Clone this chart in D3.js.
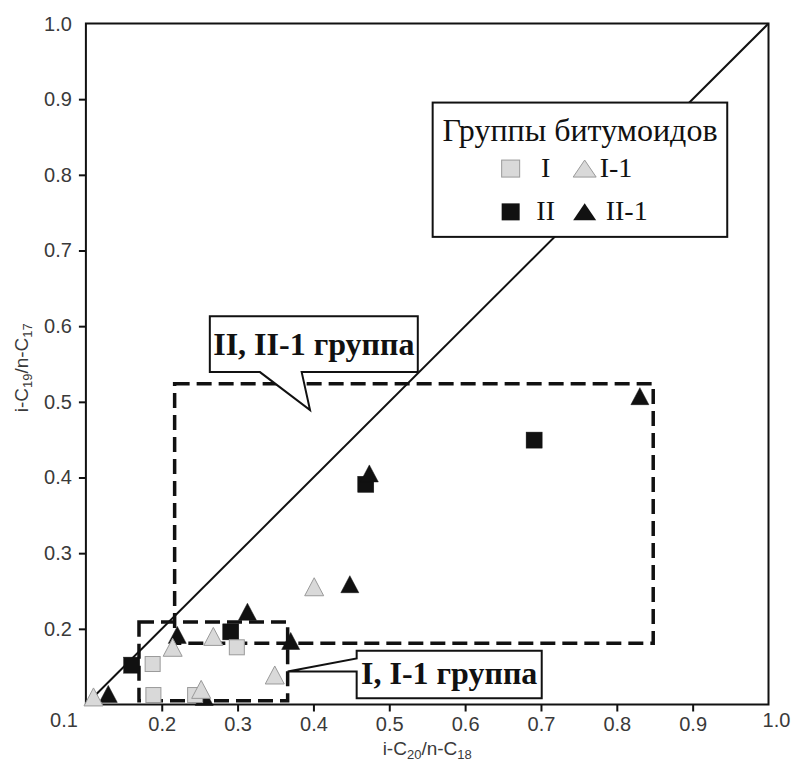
<!DOCTYPE html>
<html><head><meta charset="utf-8">
<script src="https://cdn.jsdelivr.net/npm/d3@7"></script>
<style>body{margin:0;background:#fff}svg{display:block}</style>
</head><body>
<svg id="c" width="794" height="763"></svg>
<script>
// ---- data ----
const groupI_x   = [0.188, 0.189, 0.244, 0.299];
const groupI_y   = [0.1535, 0.1125, 0.1125, 0.1756];
const groupI1_x  = [0.110, 0.2144, 0.252, 0.268, 0.349, 0.401];
const groupI1_y  = [0.110, 0.1756, 0.120, 0.190, 0.139, 0.2556];
const groupII_x  = [0.1604, 0.291, 0.469, 0.691];
const groupII_y  = [0.152, 0.196, 0.391, 0.4494];
const groupII1_x = [0.1295, 0.2205, 0.256, 0.313, 0.370, 0.448, 0.4737, 0.8304];
const groupII1_y = [0.114, 0.192, 0.110, 0.2226, 0.184, 0.259, 0.4054, 0.5075];
const tickValues = [0.2, 0.3, 0.4, 0.5, 0.6, 0.7, 0.8, 0.9];
const cornerTicks = [0.1, 1.0];
const diag_x = [0.11, 1.0];
const diag_y = [0.11, 1.0];
const regionII_bounds = [0.217, 0.848, 0.181, 0.524];   // x0,x1,y0,y1
const regionI_bounds  = [0.170, 0.366, 0.105, 0.209];
const calloutII_box = [0.2634, 0.5376, 0.5393, 0.6132]; // x0,x1,y0,y1
const calloutII_ptr = [0.3295, 0.3845, 0.3955, 0.489];  // base x0,x1, tip x,y
const calloutI_box  = [0.457, 0.701, 0.1082, 0.1711];
const calloutI_ptr  = [0.1608, 0.1436, 0.366];          // notch top y, notch bottom y, tip x
const legend_box    = [0.5572, 0.9456, 0.718, 0.8955];
const legendTitle = "Группы битумоидов";
const legendLabels = ["I", "I-1", "II", "II-1"];
const calloutTexts = ["II, II-1 группа", "I, I-1 группа"];

// ---- scales ----
const x = d3.scaleLinear().domain([0.1, 1.0]).range([85.9, 768.5]);
const y = d3.scaleLinear().domain([0.1, 1.0]).range([704.5, 23.5]);
const svg = d3.select("#c");
const fmt = d3.format(".1f");
const tickColor = "#3a3a3a";
const sans = "'Liberation Sans', Arial, sans-serif";
const serif = "'Liberation Serif', 'Times New Roman', serif";

// frame
svg.append("rect").attr("x", x(0.1)).attr("y", y(1.0))
  .attr("width", x(1.0) - x(0.1)).attr("height", y(0.1) - y(1.0))
  .attr("fill", "none").attr("stroke", "#111").attr("stroke-width", 2);

// axes
const xAxis = svg.append("g").attr("transform", `translate(0,${y(0.1)})`)
  .call(d3.axisBottom(x).tickValues(tickValues).tickFormat(fmt).tickSize(7).tickPadding(5));
const yAxis = svg.append("g").attr("transform", `translate(${x(0.1)},0)`)
  .call(d3.axisLeft(y).tickValues(tickValues).tickFormat(fmt).tickSize(7).tickPadding(7));
[xAxis, yAxis].forEach(g => {
  g.select(".domain").remove();
  g.selectAll(".tick line").attr("stroke", "#111").attr("stroke-width", 2);
  g.selectAll(".tick text").attr("fill", tickColor).attr("font-family", sans).attr("font-size", 20);
});
// corner labels
svg.append("text").attr("x", x(cornerTicks[0]) - 8).attr("y", y(cornerTicks[0]) + 22)
  .attr("text-anchor", "end").attr("fill", tickColor).attr("font-family", sans).attr("font-size", 20)
  .text(fmt(cornerTicks[0]));
svg.append("text").attr("x", x(cornerTicks[1]) + 8).attr("y", y(cornerTicks[0]) + 22)
  .attr("text-anchor", "middle").attr("fill", tickColor).attr("font-family", sans).attr("font-size", 20)
  .text(fmt(cornerTicks[1]));
svg.append("text").attr("x", x(cornerTicks[0]) - 14).attr("y", y(cornerTicks[1]) + 7)
  .attr("text-anchor", "end").attr("fill", tickColor).attr("font-family", sans).attr("font-size", 20)
  .text(fmt(cornerTicks[1]));

// axis titles
const xt = svg.append("text").attr("x", (x(0.1) + x(1.0)) / 2).attr("y", 755)
  .attr("text-anchor", "middle").attr("fill", tickColor).attr("font-family", sans).attr("font-size", 19);
xt.append("tspan").text("i-C");
xt.append("tspan").attr("font-size", 13).attr("dy", 4).text("20");
xt.append("tspan").attr("dy", -4).text("/n-C");
xt.append("tspan").attr("font-size", 13).attr("dy", 4).text("18");
const yt = svg.append("text").attr("transform", `translate(28,${y(0.545)}) rotate(-90)`)
  .attr("text-anchor", "middle").attr("fill", tickColor).attr("font-family", sans).attr("font-size", 19);
yt.append("tspan").text("i-C");
yt.append("tspan").attr("font-size", 13).attr("dy", 4).text("19");
yt.append("tspan").attr("dy", -4).text("/n-C");
yt.append("tspan").attr("font-size", 13).attr("dy", 4).text("17");

// diagonal
svg.append("line").attr("x1", x(diag_x[0])).attr("y1", y(diag_y[0]))
  .attr("x2", x(diag_x[1])).attr("y2", y(diag_y[1]))
  .attr("stroke", "#111").attr("stroke-width", 2);

// dashed regions
[regionII_bounds, regionI_bounds].forEach(b => {
  svg.append("rect").attr("x", x(b[0])).attr("y", y(b[3]))
    .attr("width", x(b[1]) - x(b[0])).attr("height", y(b[2]) - y(b[3]))
    .attr("fill", "none").attr("stroke", "#111").attr("stroke-width", 3.5)
    .attr("stroke-dasharray", "15 7");
});

// markers
const tri = (cx, cy, w, h) => `M${cx},${cy - h / 2}L${cx + w / 2},${cy + h / 2}L${cx - w / 2},${cy + h / 2}Z`;
const zip = (a, b) => a.map((v, i) => [v, b[i]]);
svg.append("g").selectAll("rect").data(zip(groupII_x, groupII_y)).join("rect")
  .attr("x", d => x(d[0]) - 8).attr("y", d => y(d[1]) - 8).attr("width", 16).attr("height", 16)
  .attr("fill", "#111").attr("stroke", "#111").attr("stroke-width", 0.5);
svg.append("g").selectAll("path").data(zip(groupII1_x, groupII1_y)).join("path")
  .attr("d", d => tri(x(d[0]), y(d[1]), 18, 17)).attr("fill", "#111").attr("stroke", "#111").attr("stroke-width", 0.5);
svg.append("g").selectAll("rect").data(zip(groupI_x, groupI_y)).join("rect")
  .attr("x", d => x(d[0]) - 7.5).attr("y", d => y(d[1]) - 7.5).attr("width", 15).attr("height", 15)
  .attr("fill", "#d9d9d9").attr("stroke", "#9a9a9a").attr("stroke-width", 1);
svg.append("g").selectAll("path").data(zip(groupI1_x, groupI1_y)).join("path")
  .attr("d", d => tri(x(d[0]), y(d[1]), 19, 18)).attr("fill", "#d9d9d9").attr("stroke", "#9a9a9a").attr("stroke-width", 1);

// callout II
{
  const [bx0, bx1, by0, by1] = [x(calloutII_box[0]), x(calloutII_box[1]), y(calloutII_box[3]), y(calloutII_box[2])];
  const [p0, p1, tx, ty] = [x(calloutII_ptr[0]), x(calloutII_ptr[1]), x(calloutII_ptr[2]), y(calloutII_ptr[3])];
  svg.append("path").attr("d", `M${bx0},${by0}H${bx1}V${by1}H${p1}L${tx},${ty}L${p0},${by1}H${bx0}Z`)
    .attr("fill", "#fff").attr("stroke", "#111").attr("stroke-width", 2);
  svg.append("text").attr("x", (bx0 + bx1) / 2).attr("y", (by0 + by1) / 2 + 11)
    .attr("text-anchor", "middle").attr("font-family", serif).attr("font-weight", "bold")
    .attr("font-size", 32).attr("fill", "#111").text(calloutTexts[0]);
}
// callout I
{
  const [bx0, bx1, by0, by1] = [x(calloutI_box[0]), x(calloutI_box[1]), y(calloutI_box[3]), y(calloutI_box[2])];
  const [nt, nb, tx] = [y(calloutI_ptr[0]), y(calloutI_ptr[1]), x(calloutI_ptr[2])];
  svg.append("path").attr("d", `M${bx0},${by0}H${bx1}V${by1}H${bx0}V${nb}L${tx},${nb}L${bx0},${nt}Z`)
    .attr("fill", "#fff").attr("stroke", "#111").attr("stroke-width", 2);
  svg.append("text").attr("x", (bx0 + bx1) / 2).attr("y", (by0 + by1) / 2 + 10)
    .attr("text-anchor", "middle").attr("font-family", serif).attr("font-weight", "bold")
    .attr("font-size", 32).attr("fill", "#111").text(calloutTexts[1]);
}

// legend
{
  const [lx0, lx1, ly0, ly1] = [x(legend_box[0]), x(legend_box[1]), y(legend_box[3]), y(legend_box[2])];
  svg.append("rect").attr("x", lx0).attr("y", ly0).attr("width", lx1 - lx0).attr("height", ly1 - ly0)
    .attr("fill", "#fff").attr("stroke", "#111").attr("stroke-width", 2);
  const lg = svg.append("g").attr("transform", `translate(${lx0},${ly0})`);
  lg.append("text").attr("x", (lx1 - lx0) / 2).attr("y", 38).attr("text-anchor", "middle")
    .attr("font-family", serif).attr("font-size", 32).attr("fill", "#111").text(legendTitle);
  const rows = [74.5, 117.8];
  lg.append("rect").attr("x", 69).attr("y", rows[0] - 17).attr("width", 18).attr("height", 17)
    .attr("fill", "#d9d9d9").attr("stroke", "#9a9a9a");
  lg.append("path").attr("d", tri(152, rows[0] - 8.5, 23, 17)).attr("fill", "#d9d9d9").attr("stroke", "#9a9a9a");
  lg.append("rect").attr("x", 69).attr("y", rows[1] - 17).attr("width", 18).attr("height", 17)
    .attr("fill", "#111");
  lg.append("path").attr("d", tri(152, rows[1] - 8.5, 23, 17)).attr("fill", "#111");
  const lt = (tx, ty, s, anchor) => lg.append("text").attr("x", tx).attr("y", ty).attr("text-anchor", anchor)
    .attr("font-family", serif).attr("font-size", 28).attr("fill", "#111").text(s);
  lt(113, rows[0], legendLabels[0], "middle");
  lt(167, rows[0], legendLabels[1], "start");
  lt(113, rows[1], legendLabels[2], "middle");
  lt(173, rows[1], legendLabels[3], "start");
}
</script>
</body></html>
